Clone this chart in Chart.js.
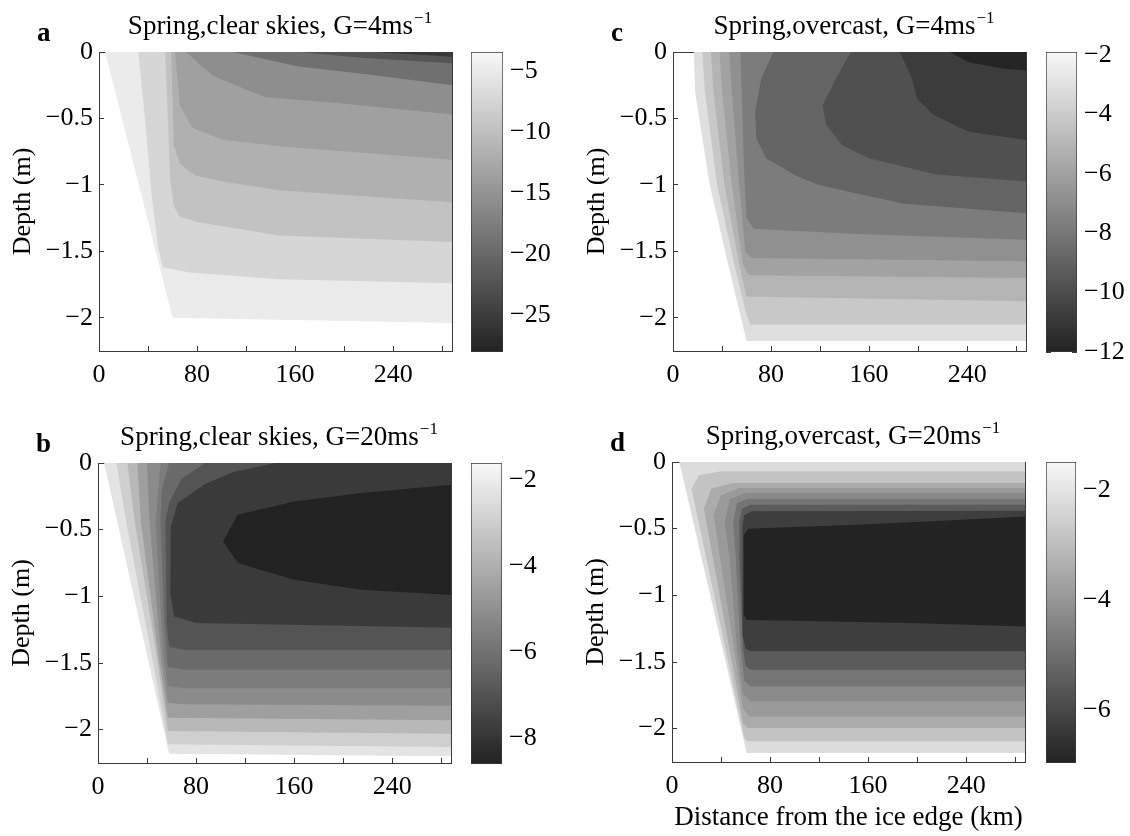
<!DOCTYPE html>
<html>
<head>
<meta charset="utf-8">
<script src="https://cdn.jsdelivr.net/npm/chart.js@4.4.1/dist/chart.umd.min.js"></script>
<style>
  body { margin: 0; background: #fff; }
  #fig { position: relative; width: 1130px; height: 836px; overflow: hidden; background: #fff; }
  #fig canvas { position: absolute; }
</style>
</head>
<body>
<div id="fig"></div>
<script>
// axes: distance from the ice edge (km) and depth (m)
const xTicks = [0, 40, 80, 120, 160, 200, 240, 280];
const xLabels = [0, 80, 160, 240];
const depthTicks = [0, -0.5, -1, -1.5, -2];
const xRange = [0, 288];
const depthRange = [-2.25, 0];

// panel a: spring, clear skies, G=4 m/s
// each contour is a closed outline [km, m], outermost first; level = temperature of the band inside it
const levelsA = [-4.9, -7.3, -9.6, -11.7, -13.5, -15.6, -19.0, -22.3, -25.5];
const contoursA = [
  [[5, 0], [60, -2.0], [288, -2.04], [288, 0]],
  [[32, 0], [37, -0.45], [43, -1.08], [48, -1.46], [52, -1.62], [74, -1.66], [147, -1.71], [288, -1.74], [288, 0]],
  [[54, 0], [56, -0.45], [58, -0.95], [61, -1.16], [66, -1.24], [80, -1.28], [147, -1.38], [288, -1.43], [288, 0]],
  [[59, 0], [61, -0.7], [66, -0.84], [78, -0.93], [105, -0.98], [147, -1.04], [288, -1.13], [288, 0]],
  [[62, 0], [66, -0.4], [76, -0.57], [101, -0.66], [147, -0.71], [288, -0.81], [288, 0]],
  [[71, 0], [93, -0.18], [136, -0.34], [190, -0.38], [288, -0.47], [288, 0]],
  [[109, 0], [163, -0.11], [220, -0.17], [288, -0.25], [288, 0]],
  [[163, 0], [217, -0.045], [288, -0.085], [288, 0]],
  [[225, 0], [288, -0.035], [288, 0]]
];
const barRangeA = [-28, -3.4];
const barTicksA = [-25, -20, -15, -10, -5];

// panel b: spring, clear skies, G=20 m/s
const levelsB = [-2.25, -2.95, -3.7, -4.5, -5.15, -5.65, -6.25, -6.95, -7.8, -8.6];
const contoursB = [
  [[5, 0], [58, -2.18], [288, -2.2], [288, 0]],
  [[15, 0], [23, -0.44], [45, -1.5], [57, -2.11], [288, -2.13], [288, 0]],
  [[24, 0], [30, -0.44], [47, -1.4], [57, -2.01], [288, -2.03], [288, 0]],
  [[32, 0], [35, -0.44], [50, -1.5], [57, -1.91], [288, -1.93], [288, 0]],
  [[40, 0], [42, -0.44], [52, -1.5], [57, -1.8], [70, -1.81], [288, -1.82], [288, 0]],
  [[51, 0], [47, -0.44], [53, -1.4], [57, -1.67], [70, -1.69], [288, -1.69], [288, 0]],
  [[58, 0], [52, -0.2], [51, -0.44], [54, -1.2], [57, -1.53], [70, -1.55], [288, -1.55], [288, 0]],
  [[87, 0], [68, -0.12], [58, -0.3], [55, -0.44], [56, -1.2], [58, -1.38], [70, -1.4], [288, -1.4], [288, 0]],
  [[145, 0], [110, -0.07], [87, -0.16], [65, -0.3], [59.5, -0.47], [59, -0.98], [62, -1.15], [80, -1.2], [288, -1.235], [288, 0]],
  [[288, -0.163], [215, -0.225], [160, -0.288], [114, -0.388], [102, -0.588], [114, -0.75], [160, -0.876], [215, -0.951], [288, -0.99]]
];
const barRangeB = [-8.6, -1.6];
const barTicksB = [-8, -6, -4, -2];

// panel c: spring, overcast, G=4 m/s
const levelsC = [-3.1, -4.15, -5.1, -5.95, -6.8, -7.75, -8.9, -9.85, -10.75, -11.9];
const contoursC = [
  [[17, 0], [18, -0.3], [30, -1.0], [45, -1.6], [60, -2.175], [288, -2.175], [288, 0]],
  [[24, 0], [26, -0.3], [36, -1.0], [50, -1.6], [60, -1.98], [63, -2.05], [288, -2.05], [288, 0]],
  [[31, 0], [33, -0.3], [42, -1.0], [54, -1.6], [60, -1.84], [288, -1.875], [288, 0]],
  [[38, 0], [40, -0.3], [48, -1.0], [57, -1.6], [62, -1.68], [288, -1.7], [288, 0]],
  [[46, 0], [48, -0.3], [54, -1.0], [59, -1.5], [64, -1.55], [288, -1.575], [288, 0]],
  [[55, 0], [56, -0.3], [58, -0.9], [60, -1.25], [66, -1.33], [150, -1.37], [288, -1.413], [288, 0]],
  [[82, 0], [72, -0.2], [67, -0.45], [68, -0.65], [76, -0.8], [100, -0.93], [119, -1.0], [187, -1.14], [288, -1.213], [288, 0]],
  [[145, 0], [133, -0.2], [122, -0.4], [125, -0.55], [138, -0.7], [160, -0.8], [214, -0.92], [288, -0.975], [288, 0]],
  [[185, 0], [195, -0.2], [199, -0.35], [212, -0.47], [241, -0.6], [288, -0.663], [288, 0]],
  [[226, 0], [241, -0.075], [268, -0.125], [288, -0.14], [288, 0]]
];
const barRangeC = [-12, -1.9];
const barTicksC = [-12, -10, -8, -6, -4, -2];

// panel d: spring, overcast, G=20 m/s (closed loops around a cold core)
const levelsD = [-2.2, -2.85, -3.45, -3.9, -4.3, -4.85, -5.5, -6.25, -6.95];
const contoursD = [
  [[6, 0], [61, -2.183], [288, -2.183], [288, 0]],
  [[288, -0.07], [40, -0.07], [22, -0.1], [16, -0.2], [59, -2.07], [62, -2.095], [288, -2.095]],
  [[288, -0.158], [50, -0.158], [32, -0.2], [26, -0.35], [58, -1.96], [62, -1.995], [288, -1.995]],
  [[288, -0.195], [55, -0.195], [40, -0.25], [34, -0.4], [58, -1.85], [63, -1.908], [288, -1.908]],
  [[288, -0.233], [60, -0.233], [47, -0.28], [43, -0.45], [47, -0.72], [53, -1.4], [58, -1.74], [64, -1.795], [288, -1.795]],
  [[288, -0.275], [62, -0.275], [53, -0.31], [50, -0.45], [52, -0.72], [56, -1.4], [59, -1.64], [64, -1.683], [288, -1.683]],
  [[288, -0.32], [64, -0.32], [57, -0.35], [55, -0.45], [55, -0.72], [58, -1.4], [60, -1.53], [64, -1.558], [288, -1.558]],
  [[288, -0.365], [65, -0.37], [59, -0.4], [57.5, -0.48], [57.5, -1.3], [60, -1.4], [64, -1.42], [288, -1.42]],
  [[288, -0.408], [220, -0.44], [150, -0.47], [62, -0.5], [58.5, -0.55], [58.5, -1.15], [61, -1.185], [100, -1.19], [200, -1.21], [288, -1.233]]
];
const barRangeD = [-6.97, -1.48];
const barTicksD = [-6, -4, -2];

const FONT = '"Liberation Serif", "Times New Roman", serif';
const AXIS = '#3a3a3a';
const GRAY_LOW = 34;
const GRAY_HIGH = 248;

const panels = [
  { letter: 'a', title: 'Spring,clear skies, G=4ms', contours: contoursA, levels: levelsA,
    range: barRangeA, ticks: barTicksA, plot: [99, 52, 452, 351], bar: [471, 52, 503, 352] },
  { letter: 'b', title: 'Spring,clear skies, G=20ms', contours: contoursB, levels: levelsB,
    range: barRangeB, ticks: barTicksB, plot: [98, 463, 451, 763], bar: [471, 463, 502, 764] },
  { letter: 'c', title: 'Spring,overcast, G=4ms', contours: contoursC, levels: levelsC,
    range: barRangeC, ticks: barTicksC, plot: [673, 52, 1026, 351], bar: [1046, 52, 1077, 352] },
  { letter: 'd', title: 'Spring,overcast, G=20ms', contours: contoursD, levels: levelsD,
    range: barRangeD, ticks: barTicksD, plot: [672, 462, 1025, 762], bar: [1046, 462, 1076, 763],
    xTitle: 'Distance from the ice edge (km)' }
];

function grayOf(v, range) {
  let t = (v - range[0]) / (range[1] - range[0]);
  t = Math.max(0, Math.min(1, t));
  const g = Math.round(GRAY_LOW + (GRAY_HIGH - GRAY_LOW) * t);
  return 'rgb(' + g + ',' + g + ',' + g + ')';
}

function minus(v) {
  return v < 0 ? '\u2212' + String(-v) : String(v);
}

function addCanvas(left, top, width, height) {
  const c = document.createElement('canvas');
  c.width = width;
  c.height = height;
  c.style.left = left + 'px';
  c.style.top = top + 'px';
  c.style.width = width + 'px';
  c.style.height = height + 'px';
  document.getElementById('fig').appendChild(c);
  return c;
}

function fixedTicks(values) {
  return function (scale) {
    scale.ticks = values.map(v => ({ value: v }));
  };
}

// title with superscript unit and bold panel letter
const panelText = {
  id: 'panelText',
  afterDraw(chart, args, opts) {
    const ctx = chart.ctx;
    const a = chart.chartArea;
    ctx.save();
    ctx.fillStyle = '#000';
    ctx.textBaseline = 'alphabetic';
    ctx.textAlign = 'left';
    ctx.font = '27px ' + FONT;
    const mainW = ctx.measureText(opts.title).width;
    ctx.font = '17px ' + FONT;
    const supW = ctx.measureText('\u22121').width;
    const x0 = (a.left + a.right) / 2 - (mainW + supW) / 2 + 4;
    const base = a.top - 18;
    ctx.font = '27px ' + FONT;
    ctx.fillText(opts.title, x0, base);
    ctx.font = '17px ' + FONT;
    ctx.fillText('\u22121', x0 + mainW + 1, base - 11);
    ctx.font = 'bold 27px ' + FONT;
    ctx.fillText(opts.letter, a.left - 62, a.top - 11);
    ctx.restore();
  }
};

function frameAxis(extra) {
  return Object.assign({
    type: 'linear',
    z: 1,
    grid: { drawOnChartArea: false, drawTicks: true, tickLength: -5, color: AXIS, lineWidth: 1 },
    border: { display: true, color: AXIS, width: 1 }
  }, extra);
}

function drawPanel(p) {
  const [pl, pt, pr, pb] = p.plot;
  const left = pl - 99;
  const top = pt - 52;
  const width = pr - left + 8;
  const height = p.xTitle ? 836 - top : pb - top + 60;
  const bottomH = height - (pb - top);
  const canvas = addCanvas(left, top, width, height);
  const tickFont = { family: FONT, size: 26 };
  const n = p.contours.length;

  const datasets = p.contours.map((poly, i) => ({
    type: 'line',
    data: poly.map(pt2 => ({ x: pt2[0], y: pt2[1] })),
    fill: 'shape',
    backgroundColor: grayOf(p.levels[i], p.range),
    borderWidth: 0,
    pointRadius: 0,
    tension: 0,
    order: n - i
  }));

  new Chart(canvas, {
    type: 'line',
    data: { datasets },
    options: {
      responsive: false,
      animation: false,
      events: [],
      layout: { padding: 0 },
      plugins: {
        legend: { display: false },
        tooltip: { enabled: false },
        panelText: { title: p.title, letter: p.letter }
      },
      scales: {
        x: frameAxis({
          position: 'bottom', min: xRange[0], max: xRange[1],
          afterBuildTicks: fixedTicks(xTicks),
          afterFit: s => { s.height = bottomH; },
          ticks: { font: tickFont, color: '#000', padding: 14, maxRotation: 0, minRotation: 0, autoSkip: false,
                   callback: v => xLabels.includes(v) ? String(v) : '' },
          title: p.xTitle
            ? { display: true, text: p.xTitle, color: '#000', font: { family: FONT, size: 27 }, padding: { top: 0, bottom: 2 } }
            : { display: false }
        }),
        y: frameAxis({
          position: 'left', min: depthRange[0], max: depthRange[1],
          afterBuildTicks: fixedTicks(depthTicks),
          afterFit: s => { s.width = 99; },
          ticks: { font: tickFont, color: '#000', padding: 11, autoSkip: false, callback: v => minus(v) },
          title: { display: true, text: 'Depth (m)', color: '#000', font: { family: FONT, size: 26 }, padding: { top: 8, bottom: 0 } }
        }),
        x2: frameAxis({
          position: 'top', min: xRange[0], max: xRange[1],
          afterBuildTicks: fixedTicks(xTicks),
          afterFit: s => { s.height = 52; },
          ticks: { display: false }
        }),
        y2: frameAxis({
          position: 'right', min: depthRange[0], max: depthRange[1],
          afterBuildTicks: fixedTicks(depthTicks),
          afterFit: s => { s.width = 8; },
          ticks: { display: false }
        })
      }
    },
    plugins: [panelText]
  });
}

function drawBar(p) {
  const [bl, bt, br, bb] = p.bar;
  const pad = 32;
  const labelW = 72;
  const canvas = addCanvas(bl - 10, bt - pad, br - bl + 10 + labelW, bb - bt + 2 * pad);
  const range = p.range;
  const tickFont = { family: FONT, size: 26 };

  new Chart(canvas, {
    type: 'bar',
    data: {
      labels: [''],
      datasets: [{
        data: [range],
        backgroundColor: c => {
          const area = c.chart.chartArea;
          if (!area) return grayOf((range[0] + range[1]) / 2, range);
          const g = c.chart.ctx.createLinearGradient(0, area.bottom, 0, area.top);
          g.addColorStop(0, grayOf(range[0], range));
          g.addColorStop(1, grayOf(range[1], range));
          return g;
        },
        borderColor: AXIS,
        borderWidth: 1,
        borderSkipped: false,
        barPercentage: 1,
        categoryPercentage: 1
      }]
    },
    options: {
      responsive: false,
      animation: false,
      events: [],
      layout: { padding: { top: pad, bottom: pad, left: 0, right: 0 } },
      plugins: { legend: { display: false }, tooltip: { enabled: false } },
      scales: {
        x: { display: false },
        y: {
          type: 'linear', position: 'right', min: range[0], max: range[1], z: 1,
          afterBuildTicks: fixedTicks(p.ticks),
          afterFit: s => { s.width = labelW; },
          ticks: { font: tickFont, color: '#000', padding: 12, autoSkip: false, callback: v => minus(v) },
          grid: { drawOnChartArea: false, drawTicks: true, tickLength: -5, color: AXIS },
          border: { display: false }
        },
        yl: {
          type: 'linear', axis: 'y', position: 'left', min: range[0], max: range[1], z: 1,
          afterBuildTicks: fixedTicks(p.ticks),
          afterFit: s => { s.width = 10; },
          ticks: { display: false },
          grid: { drawOnChartArea: false, drawTicks: true, tickLength: -5, color: AXIS },
          border: { display: false }
        }
      }
    }
  });
}

panels.forEach(p => {
  drawPanel(p);
  drawBar(p);
});
</script>
</body>
</html>
